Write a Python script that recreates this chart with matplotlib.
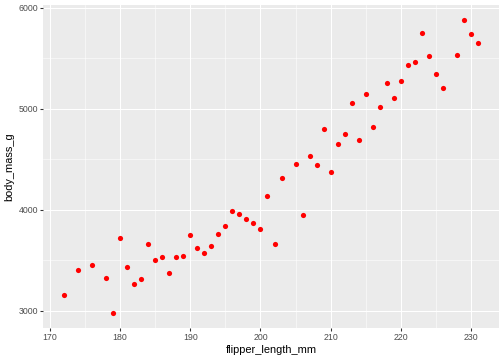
import matplotlib
matplotlib.use("Agg")
import matplotlib.pyplot as plt
from matplotlib.ticker import MultipleLocator

plt.rcParams['font.family'] = ['Liberation Sans', 'DejaVu Sans']

flipper_length_mm = [172, 174, 176, 178, 179, 180, 181, 182, 183, 184, 185, 186, 187, 188, 189,
                     190, 191, 192, 193, 194, 195, 196, 197, 198, 199, 200, 201, 202, 203, 205,
                     206, 207, 208, 209, 210, 211, 212, 213, 214, 215, 216, 217, 218, 219, 220,
                     221, 222, 223, 224, 225, 226, 228, 229, 230, 231]
body_mass_g = [3150, 3400, 3450, 3325, 2975, 3720, 3430, 3260, 3314, 3663, 3505, 3535, 3373, 3528, 3538,
               3749, 3617, 3574, 3640, 3759, 3842, 3987, 3957, 3911, 3871, 3809, 4135, 3657, 4314, 4452,
               3950, 4528, 4439, 4802, 4376, 4653, 4749, 5062, 4690, 5145, 4815, 5020, 5254, 5106, 5274,
               5436, 5465, 5755, 5522, 5343, 5205, 5532, 5881, 5743, 5657]
x_ticks = [170, 180, 190, 200, 210, 220, 230]
y_ticks = [3000, 4000, 5000, 6000]

fig = plt.figure(figsize=(7, 5), dpi=72)
ax = fig.add_axes([43.3/504, 1-327.7/360, (498.7-43.3)/504, (327.7-5.3)/360])
ax.set_facecolor('#EBEBEB')
for s in ax.spines.values():
    s.set_visible(False)

xr = max(flipper_length_mm) - min(flipper_length_mm)
yr = max(body_mass_g) - min(body_mass_g)
ax.set_xlim(min(flipper_length_mm) - 0.05*xr, max(flipper_length_mm) + 0.05*xr)
ax.set_ylim(min(body_mass_g) - 0.05*yr, max(body_mass_g) + 0.05*yr)

ax.set_xticks(x_ticks)
ax.set_yticks(y_ticks)
ax.xaxis.set_minor_locator(MultipleLocator(5))
ax.yaxis.set_minor_locator(MultipleLocator(500))
ax.grid(True, which='major', color='white', linewidth=1.07)
ax.grid(True, which='minor', color='white', linewidth=0.53)
ax.set_axisbelow(True)
ax.tick_params(which='major', length=2.75, width=1.07, color='#333333', labelsize=8.8,
               labelcolor='#4D4D4D', pad=2.2)
ax.tick_params(which='minor', length=0)

ax.scatter(flipper_length_mm, body_mass_g, s=27, color='red', linewidths=0, zorder=3)

ax.set_xlabel('flipper_length_mm', fontsize=11, color='black', labelpad=3)
ax.set_ylabel('body_mass_g', fontsize=11, color='black', labelpad=4)

fig.savefig('out.png', dpi=72)
